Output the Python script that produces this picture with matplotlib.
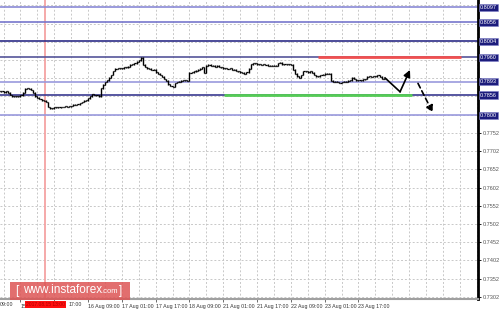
import matplotlib
matplotlib.use("Agg")
import matplotlib.pyplot as plt
import matplotlib.transforms as mtransforms

# hourly closes (bar index = hour)
closes = [
    0.7867, 0.7866, 0.7864, 0.7867, 0.7862,
    0.7856, 0.7853, 0.7852, 0.7853, 0.7852,
    0.7855, 0.7862, 0.7873, 0.7875, 0.7873,
    0.7870, 0.7862, 0.7853,
    0.7849, 0.7845, 0.7842, 0.7840,
    0.7837, 0.7823, 0.7820,
    0.7820, 0.7822, 0.7823, 0.7822, 0.7823, 0.7823, 0.7825, 0.7823, 0.7825,
    0.7826, 0.7829, 0.7830, 0.7831, 0.7834,
    0.7837, 0.7840, 0.7842, 0.7847,
    0.7853, 0.7858, 0.7856, 0.7855, 0.7853,
    0.7875, 0.7884, 0.7892,
    0.7897, 0.7903, 0.7911,
    0.7922, 0.7928, 0.7929, 0.7930,
    0.7930, 0.7933, 0.7932, 0.7934,
    0.7939, 0.7940, 0.7943,
    0.7947, 0.7952, 0.7959,
    0.7939, 0.7933, 0.7930,
    0.7928, 0.7925, 0.7926,
    0.7919, 0.7914, 0.7911, 0.7906,
    0.7900, 0.7895, 0.7886,
    0.7881, 0.7878, 0.7889,
    0.7892, 0.7893, 0.7895, 0.7896, 0.7897,
    0.7895, 0.7917,
    0.7919, 0.7921, 0.7923, 0.7925,
    0.7928, 0.7933,
    0.7917,
    0.7936, 0.7939, 0.7937,
    0.7936, 0.7934, 0.7936, 0.7933, 0.7932,
    0.7930, 0.7930, 0.7928, 0.7929, 0.7925,
    0.7925, 0.7922, 0.7921, 0.7919, 0.7917,
    0.7915, 0.7919, 0.7928,
    0.7941, 0.7944, 0.7943, 0.7941, 0.7941,
    0.7939, 0.7940, 0.7939, 0.7937, 0.7936,
    0.7937, 0.7936, 0.7936,
    0.7944, 0.7945, 0.7941,
    0.7941, 0.7940, 0.7941, 0.7939,
    0.7925, 0.7914, 0.7908, 0.7903,
    0.7911, 0.7922, 0.7921,
    0.7919, 0.7921, 0.7917,
    0.7911, 0.7908, 0.7907, 0.7911,
    0.7912, 0.7914, 0.7915, 0.7914,
    0.7895, 0.7892, 0.7893, 0.7892,
    0.7890, 0.7892, 0.7893, 0.7892,
    0.7895, 0.7897, 0.7903,
    0.7900, 0.7897, 0.7896,
    0.7897, 0.7899, 0.7900,
    0.7906, 0.7907, 0.7906, 0.7907,
    0.7908, 0.7910, 0.7906,
    0.7901, 0.7900,
]

levels = [0.8097, 0.8056, 0.8004, 0.7960, 0.7893, 0.7856, 0.7800]
level_colors = ['#8a8ad6', '#7777cc', '#2e2e88', '#555599', '#9999dd', '#3a3a90', '#9999dd']

resistance = 0.7960
resistance_span = [150.9, 218.4]
support = 0.7856
support_span = [106.4, 195.2]

# scenario arrows: (bar, price)
path_up = [(182.6, 0.7903), (189.7, 0.7865), (194.4, 0.7925)]
path_down = [(198.2, 0.7888), (205.2, 0.7808)]

cursor_bar = 21.6

yticks = [0.7302 + 0.005 * k for k in range(17)]
xtick_bars = [10 + 16 * k for k in range(11)]
# first two labels are mostly hidden by the cursor date tag
xtick_labels = ['15', '', '16 Aug 09:00', '17 Aug 01:00',
                '17 Aug 17:00', '18 Aug 09:00', '21 Aug 01:00', '21 Aug 17:00',
                '22 Aug 09:00', '23 Aug 01:00', '23 Aug 17:00']

plt.rcParams['font.family'] = ['Liberation Sans', 'DejaVu Sans']

fig = plt.figure(figsize=(5, 3.11), dpi=100)
W, H = 500, 311
ax = fig.add_axes([0, 1 - 299 / H, 478 / W, 299 / H])

ax.set_xlim(0.34, 226.6)
ax.set_ylim(0.72957, 0.81171)

# grid
for b in range(2, 227, 8):
    ax.axvline(b, color='#c8c8c8', lw=0.7, ls=(0, (2, 2)), zorder=0)
for t in yticks:
    ax.axhline(t, color='#c8c8c8', lw=0.7, ls=(0, (2, 2)), zorder=0)

ax.axvline(cursor_bar, color='#f4a3a3', lw=1.3, zorder=1)

for lv, c in zip(levels, level_colors):
    ax.axhline(lv, color=c, lw=1.2, zorder=2)

ax.hlines(resistance, resistance_span[0], resistance_span[1], color='#f05050', lw=2, zorder=3)
ax.hlines(support, support_span[0], support_span[1], color='#55cc55', lw=2, zorder=3)

# ohlc bars, open = previous close
prev = closes[0]
for i, c in enumerate(closes):
    lo, hi = min(prev, c) - 0.00012, max(prev, c) + 0.00012
    ax.vlines(i, lo, hi, color='black', lw=1.0, zorder=4)
    ax.hlines(prev, i - 0.5, i, color='black', lw=0.9, zorder=4)
    ax.hlines(c, i, i + 0.5, color='black', lw=0.9, zorder=4)
    prev = c

ax.plot([p[0] for p in path_up[:2]], [p[1] for p in path_up[:2]], color='black', lw=1.2, zorder=5)
ax.annotate('', xy=path_up[2], xytext=path_up[1],
            arrowprops=dict(arrowstyle='-|>', color='black', lw=1.2, mutation_scale=10,
                            shrinkA=0, shrinkB=0), zorder=5)
ax.annotate('', xy=path_down[1], xytext=path_down[0],
            arrowprops=dict(arrowstyle='-|>', color='black', lw=1.2, ls=(0, (3, 2)),
                            mutation_scale=10, shrinkA=0, shrinkB=0), zorder=5)

# axes styling
for s in ['left', 'top']:
    ax.spines[s].set_visible(False)
ax.spines['right'].set_color('black')
ax.spines['right'].set_linewidth(2)
ax.spines['bottom'].set_color('#a0a0a0')
ax.spines['bottom'].set_linewidth(1.5)

# gray scale labels above 0.78 are hidden behind the level tags
ax.yaxis.tick_right()
ax.set_yticks(yticks)
ax.set_yticklabels([f'{t:.4f}' if t < 0.78 else '' for t in yticks])
ax.tick_params(axis='y', length=2, width=0.6, pad=1.5, labelsize=4, labelcolor='#555555')

ax.set_xticks(xtick_bars)
ax.set_xticklabels(xtick_labels)
ax.tick_params(axis='x', length=2, width=0.6, pad=1.5, labelsize=3.8, labelcolor='#333333',
               color='#555555')
for lab in ax.get_xticklabels():
    lab.set_ha('left')

# level tags on price scale
trans = mtransforms.blended_transform_factory(ax.transAxes, ax.transData)
for lv in levels:
    ax.text(1.004, lv, f'{lv:.4f}', transform=trans, ha='left', va='center',
            fontsize=4, color='white', clip_on=False, zorder=10,
            bbox=dict(boxstyle='square,pad=0.2', fc='#1c1c7c', ec='#8080c8', lw=0.4))

# bottom extras
fig.text(0 / W, 1 - 305 / H, '09:00', fontsize=3.8, color='#333333', ha='left', va='center')
fig.text(69 / W, 1 - 305 / H, '17:00', fontsize=3.8, color='#333333', ha='left', va='center')
fig.text(45.5 / W, 1 - 304.5 / H, '2017.08.15 13:00', fontsize=3.6, color='#b00000',
         ha='center', va='center', zorder=10,
         bbox=dict(boxstyle='square,pad=0.2', fc='#ff1010', ec='none'))

fig.patches.append(plt.Rectangle((10 / W, 1 - 300 / H), 120 / W, 18 / H,
                                 transform=fig.transFigure, fc='#dd5555', alpha=0.85,
                                 ec='none', zorder=9))
fig.text(15 / W, 1 - 291 / H, '[', fontsize=8.5, color='white', va='center', zorder=11)
fig.text(23 / W, 1 - 290 / H, 'www.instaforex', fontsize=8.5, color='white', va='center', zorder=11)
fig.text(101 / W, 1 - 291.5 / H, '.com', fontsize=5.5, color='white', va='center', zorder=11)
fig.text(119 / W, 1 - 291 / H, ']', fontsize=8.5, color='white', va='center', zorder=11)

fig.savefig('out.png', dpi=100)
